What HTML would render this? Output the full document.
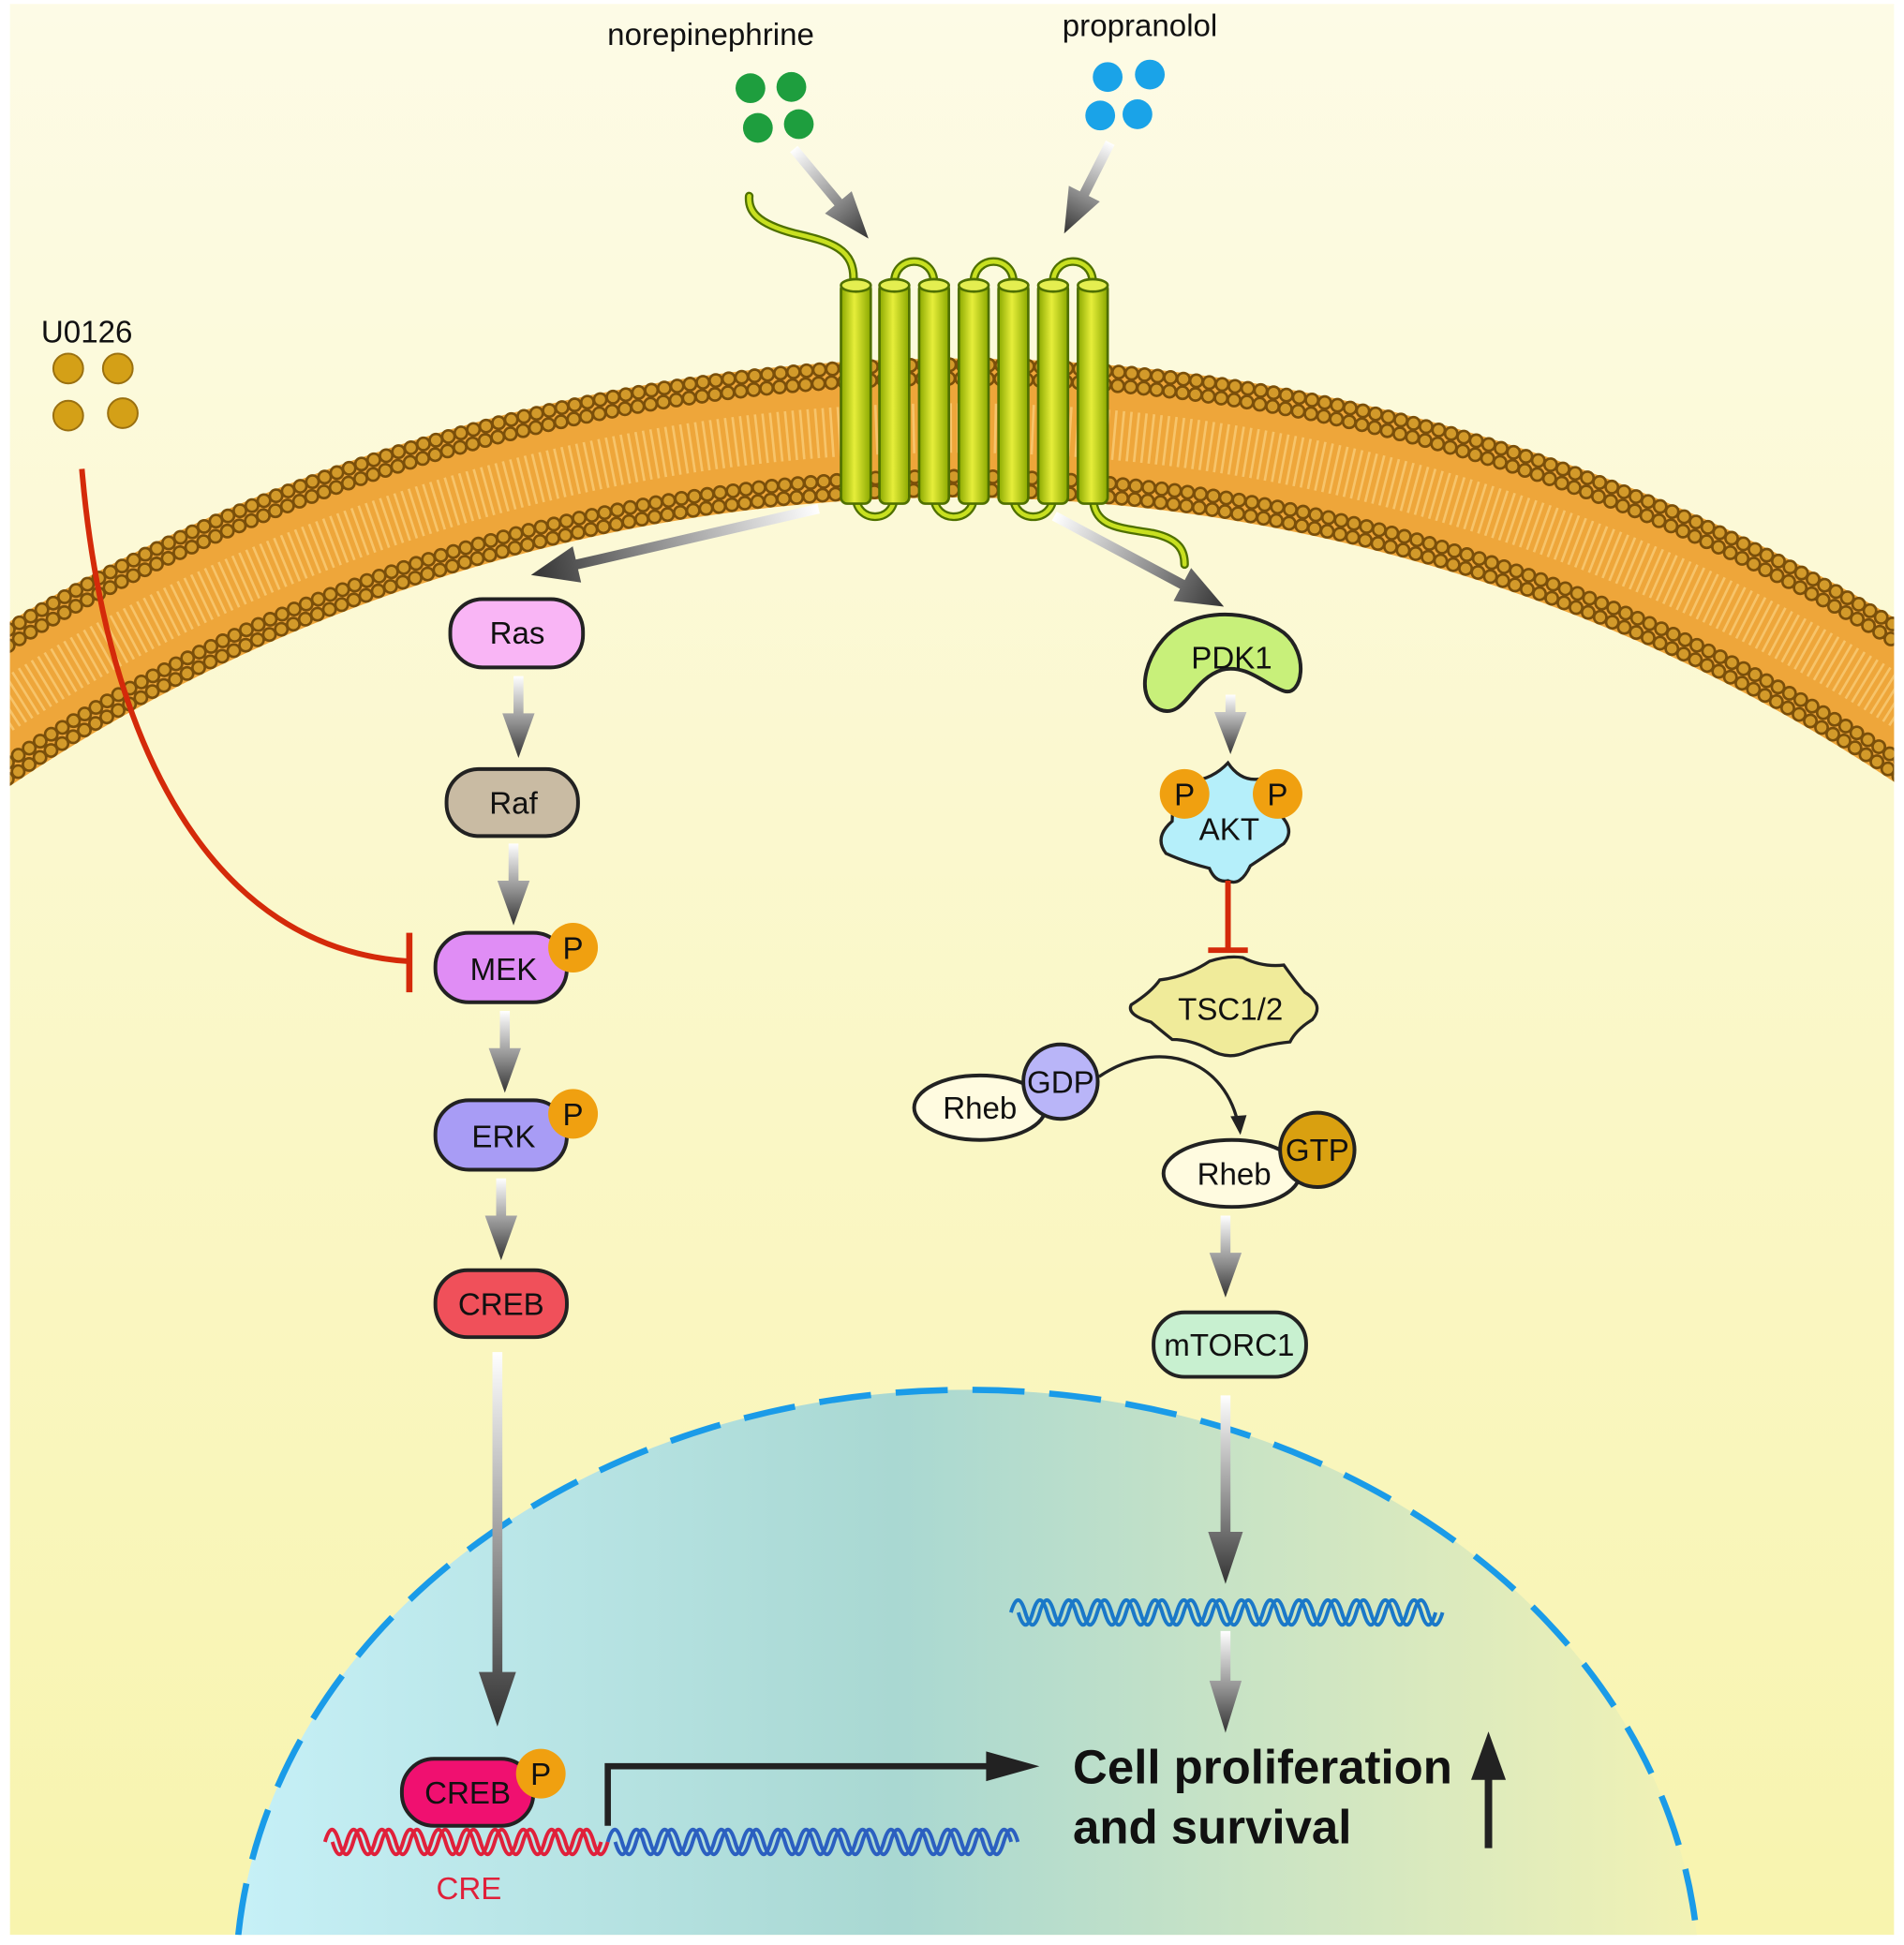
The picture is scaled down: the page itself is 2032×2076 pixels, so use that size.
<!DOCTYPE html>
<html><head><meta charset="utf-8"><style>html,body{margin:0;padding:0;background:#fff;width:2032px;height:2076px;overflow:hidden}svg{display:block}</style></head>
<body>
<svg width="2032" height="2076" viewBox="0 0 1535 1568" xmlns="http://www.w3.org/2000/svg" font-family="Liberation Sans, Arial, sans-serif">
<defs>
<linearGradient id="bg" x1="0" y1="0" x2="0" y2="1"><stop offset="0" stop-color="#fdfbe6"/><stop offset="1" stop-color="#f8f4ae"/></linearGradient>
<linearGradient id="arr" x1="0" y1="0" x2="0" y2="1"><stop offset="0" stop-color="#ffffff"/><stop offset="0.6" stop-color="#8a8a8a"/><stop offset="1" stop-color="#333"/></linearGradient>
<linearGradient id="nuc" x1="0" y1="0" x2="1" y2="0"><stop offset="0" stop-color="#c6f0f7"/><stop offset="0.45" stop-color="#a9d8d2"/><stop offset="1" stop-color="#f2f2b4"/></linearGradient>
<linearGradient id="cyl" x1="0" y1="0" x2="1" y2="0"><stop offset="0" stop-color="#8aa800"/><stop offset="0.45" stop-color="#e6ee3a"/><stop offset="1" stop-color="#8aa800"/></linearGradient>
<clipPath id="cv"><rect x="8" y="3" width="1519" height="1557"/></clipPath>
</defs>
<rect width="1535" height="1568" fill="#fff"/>
<g clip-path="url(#cv)">
<rect x="8" y="3" width="1519" height="1557" fill="url(#bg)"/>
<path d="M-60,612.8 A1420,1420 0 0,1 1595,609.2" fill="none" stroke="#eea63a" stroke-width="112"/>
<path d="M-60,612.8 A1420,1420 0 0,1 1595,609.2" fill="none" stroke="#f7c46a" stroke-width="40" stroke-dasharray="2 4"/>
<g fill="none" stroke-linecap="round" stroke-dasharray="0 10.5">
<path d="M-20,524.1 A1471,1471 0 0,1 1555,521" stroke="#7a4f0a" stroke-width="12"/>
<path d="M-20,524.1 A1471,1471 0 0,1 1555,521" stroke="#d39a2a" stroke-width="8"/>
<path d="M-20,537.2 A1460,1460 0 0,1 1555,534" stroke="#7a4f0a" stroke-width="12"/>
<path d="M-20,537.2 A1460,1460 0 0,1 1555,534" stroke="#d39a2a" stroke-width="8"/>
<path d="M-20,632.3 A1381,1381 0 0,1 1555,628.8" stroke="#7a4f0a" stroke-width="12"/>
<path d="M-20,632.3 A1381,1381 0 0,1 1555,628.8" stroke="#d39a2a" stroke-width="8"/>
<path d="M-20,645.7 A1370,1370 0 0,1 1555,642.2" stroke="#7a4f0a" stroke-width="12"/>
<path d="M-20,645.7 A1370,1370 0 0,1 1555,642.2" stroke="#d39a2a" stroke-width="8"/>
</g>
<path d="M192.1,1560 A590,480 0 0,1 1367.9,1560 Z" fill="url(#nuc)"/>
<path d="M192.1,1560 A590,480 0 0,1 1367.9,1560" fill="none" stroke="#1a9be8" stroke-width="5" stroke-dasharray="42 20"/>
</g>

<text x="573" y="36" font-size="25" text-anchor="middle" fill="#111">norepinephrine</text>
<g fill="#1e9e3e"><circle cx="605" cy="71" r="12"/><circle cx="638" cy="70" r="12"/><circle cx="611" cy="103" r="12"/><circle cx="644" cy="100" r="12"/></g>
<text x="919" y="29" font-size="25" text-anchor="middle" fill="#111">propranolol</text>
<g fill="#1aa3e8"><circle cx="893" cy="62" r="12"/><circle cx="927" cy="60" r="12"/><circle cx="887" cy="93" r="12"/><circle cx="917" cy="92" r="12"/></g>
<text x="70" y="276" font-size="25" text-anchor="middle" fill="#111">U0126</text>
<g fill="#d4a017" stroke="#9a7010" stroke-width="1.5"><circle cx="55" cy="297" r="12"/><circle cx="95" cy="297" r="12"/><circle cx="55" cy="335" r="12"/><circle cx="99" cy="333" r="12"/></g>

<g fill="none" stroke="#4f7000" stroke-width="7" stroke-linecap="round">
<path d="M688,228 C690,200 670,195 640,188 C610,180 603,170 604,158"/>
<path d="M881,400 C882,425 900,425 930,430 C952,435 955,445 955,455"/>
<path d="M721,228 C721,205 753,205 753,228"/><path d="M785,228 C785,205 817,205 817,228"/><path d="M849,228 C849,205 881,205 881,228"/>
<path d="M690,400 C690,422 721,422 721,400"/><path d="M753,400 C753,422 785,422 785,400"/><path d="M817,400 C817,422 849,422 849,400"/>
</g>
<g fill="none" stroke="#c8e020" stroke-width="3.5" stroke-linecap="round">
<path d="M688,228 C690,200 670,195 640,188 C610,180 603,170 604,158"/>
<path d="M881,400 C882,425 900,425 930,430 C952,435 955,445 955,455"/>
<path d="M721,228 C721,205 753,205 753,228"/><path d="M785,228 C785,205 817,205 817,228"/><path d="M849,228 C849,205 881,205 881,228"/>
<path d="M690,400 C690,422 721,422 721,400"/><path d="M753,400 C753,422 785,422 785,400"/><path d="M817,400 C817,422 849,422 849,400"/>
</g>
<g stroke="#4f7000" stroke-width="2">
<g fill="url(#cyl)">
<rect x="678" y="228" width="24" height="178" rx="5"/><rect x="709" y="228" width="24" height="178" rx="5"/><rect x="741" y="228" width="24" height="178" rx="5"/><rect x="773" y="228" width="24" height="178" rx="5"/><rect x="805" y="228" width="24" height="178" rx="5"/><rect x="837" y="228" width="24" height="178" rx="5"/><rect x="869" y="228" width="24" height="178" rx="5"/>
</g>
<g fill="#e4ee50">
<ellipse cx="690" cy="230" rx="12" ry="5"/><ellipse cx="721" cy="230" rx="12" ry="5"/><ellipse cx="753" cy="230" rx="12" ry="5"/><ellipse cx="785" cy="230" rx="12" ry="5"/><ellipse cx="817" cy="230" rx="12" ry="5"/><ellipse cx="849" cy="230" rx="12" ry="5"/><ellipse cx="881" cy="230" rx="12" ry="5"/>
</g></g>

<g fill="url(#arr)">
<g transform="translate(640,120) rotate(-39.8)"><polygon points="-4,0 4,0 4,56 14,56 0,94 -14,56 -4,56"/></g>
<g transform="translate(895,115) rotate(26.9)"><polygon points="-4,0 4,0 4,46 14,46 0,82 -14,46 -4,46"/></g>
<g transform="translate(660,410) rotate(77)"><polygon points="-4,0 4,0 4,200 15,200 0,238 -15,200 -4,200"/></g>
<g transform="translate(850,416) rotate(-61.9)"><polygon points="-4,0 4,0 4,117 15,117 0,155 -15,117 -4,117"/></g>
<g transform="translate(418,545)"><polygon points="-4,0 4,0 4,30 13,30 0,66 -13,30 -4,30"/></g>
<g transform="translate(414,680)"><polygon points="-4,0 4,0 4,30 13,30 0,66 -13,30 -4,30"/></g>
<g transform="translate(407,815)"><polygon points="-4,0 4,0 4,30 13,30 0,66 -13,30 -4,30"/></g>
<g transform="translate(404,950)"><polygon points="-4,0 4,0 4,30 13,30 0,66 -13,30 -4,30"/></g>
<g transform="translate(401,1090)"><polygon points="-4,0 4,0 4,258 15,258 0,302 -15,258 -4,258"/></g>
<g transform="translate(992,560)"><polygon points="-4,0 4,0 4,14 13,14 0,48 -13,14 -4,14"/></g>
<g transform="translate(988,980)"><polygon points="-4,0 4,0 4,30 13,30 0,66 -13,30 -4,30"/></g>
<g transform="translate(988,1125)"><polygon points="-4,0 4,0 4,110 14,110 0,152 -14,110 -4,110"/></g>
<g transform="translate(988,1315)"><polygon points="-4,0 4,0 4,40 13,40 0,82 -13,40 -4,40"/></g>
</g>

<path d="M66,378 C85,600 170,765 330,775" fill="none" stroke="#d42a0a" stroke-width="4.5"/>
<line x1="330" y1="752" x2="330" y2="800" stroke="#d42a0a" stroke-width="5"/>

<g stroke="#222" stroke-width="3">
<rect x="363" y="483" width="107" height="55" rx="26" fill="#f9b5f5"/>
<rect x="360" y="620" width="106" height="54" rx="26" fill="#c9bba3"/>
<rect x="351" y="752" width="106" height="56" rx="27" fill="#e08df5"/>
<rect x="351" y="887" width="106" height="56" rx="27" fill="#a89cf5"/>
<rect x="351" y="1024" width="106" height="54" rx="26" fill="#f0505a"/>
<rect x="324" y="1418" width="106" height="54" rx="26" fill="#f01070"/>
</g>
<g fill="#f0a010"><circle cx="462" cy="764" r="20"/><circle cx="462" cy="898" r="20"/><circle cx="436" cy="1430" r="20"/></g>
<g font-size="25" text-anchor="middle" fill="#111">
<text x="417" y="519">Ras</text><text x="414" y="656">Raf</text><text x="406" y="790">MEK</text><text x="406" y="925">ERK</text><text x="404" y="1060">CREB</text><text x="377" y="1454">CREB</text>
<text x="462" y="773">P</text><text x="462" y="907">P</text><text x="436" y="1439">P</text>
</g>

<g fill="none" stroke-width="3">
<path stroke="#e0203a" d="M262,1485 q5.7,-20 11.4,0 t11.4,0 t11.4,0 t11.4,0 t11.4,0 t11.4,0 t11.4,0 t11.4,0 t11.4,0 t11.4,0 t11.4,0 t11.4,0 t11.4,0 t11.4,0 t11.4,0 t11.4,0 t11.4,0 t11.4,0 t11.4,0 t11.4,0"/>
<path stroke="#e0203a" d="M268,1485 q5.7,20 11.4,0 t11.4,0 t11.4,0 t11.4,0 t11.4,0 t11.4,0 t11.4,0 t11.4,0 t11.4,0 t11.4,0 t11.4,0 t11.4,0 t11.4,0 t11.4,0 t11.4,0 t11.4,0 t11.4,0 t11.4,0 t11.4,0"/>
<path stroke="#2b5fc0" d="M490,1485 q5.7,-20 11.4,0 t11.4,0 t11.4,0 t11.4,0 t11.4,0 t11.4,0 t11.4,0 t11.4,0 t11.4,0 t11.4,0 t11.4,0 t11.4,0 t11.4,0 t11.4,0 t11.4,0 t11.4,0 t11.4,0 t11.4,0 t11.4,0 t11.4,0 t11.4,0 t11.4,0 t11.4,0 t11.4,0 t11.4,0 t11.4,0 t11.4,0 t11.4,0 t11.4,0"/>
<path stroke="#2b5fc0" d="M496,1485 q5.7,20 11.4,0 t11.4,0 t11.4,0 t11.4,0 t11.4,0 t11.4,0 t11.4,0 t11.4,0 t11.4,0 t11.4,0 t11.4,0 t11.4,0 t11.4,0 t11.4,0 t11.4,0 t11.4,0 t11.4,0 t11.4,0 t11.4,0 t11.4,0 t11.4,0 t11.4,0 t11.4,0 t11.4,0 t11.4,0 t11.4,0 t11.4,0 t11.4,0"/>
<path stroke="#1a78c8" d="M815,1300 q5.8,-20 11.6,0 t11.6,0 t11.6,0 t11.6,0 t11.6,0 t11.6,0 t11.6,0 t11.6,0 t11.6,0 t11.6,0 t11.6,0 t11.6,0 t11.6,0 t11.6,0 t11.6,0 t11.6,0 t11.6,0 t11.6,0 t11.6,0 t11.6,0 t11.6,0 t11.6,0 t11.6,0 t11.6,0 t11.6,0 t11.6,0 t11.6,0 t11.6,0 t11.6,0 t11.6,0"/>
<path stroke="#1a78c8" d="M821,1300 q5.8,20 11.6,0 t11.6,0 t11.6,0 t11.6,0 t11.6,0 t11.6,0 t11.6,0 t11.6,0 t11.6,0 t11.6,0 t11.6,0 t11.6,0 t11.6,0 t11.6,0 t11.6,0 t11.6,0 t11.6,0 t11.6,0 t11.6,0 t11.6,0 t11.6,0 t11.6,0 t11.6,0 t11.6,0 t11.6,0 t11.6,0 t11.6,0 t11.6,0 t11.6,0"/>
</g>
<text x="378" y="1531" font-size="25" text-anchor="middle" fill="#e0203a">CRE</text>

<path d="M490,1472 V1424 H800" fill="none" stroke="#222" stroke-width="5"/>
<polygon points="795,1412 838,1424 795,1436" fill="#222"/>
<text x="865" y="1438" font-size="38.5" font-weight="bold" fill="#111">Cell proliferation</text>
<text x="865" y="1486" font-size="38.5" font-weight="bold" fill="#111">and survival</text>
<line x1="1200" y1="1490" x2="1200" y2="1430" stroke="#222" stroke-width="6"/>
<polygon points="1186,1435 1200,1396 1214,1435" fill="#222"/>

<path d="M935,572 C912,562 925,520 950,505 C975,490 1012,493 1035,510 C1056,527 1050,562 1035,557 C1020,552 1005,535 985,540 C960,548 955,580 935,572 Z" fill="#c8f07a" stroke="#222" stroke-width="3"/>
<text x="993" y="539" font-size="25" text-anchor="middle" fill="#111">PDK1</text>
<path d="M990,615 Q1000,630 1015,628 Q1025,640 1030,655 Q1045,668 1035,680 Q1020,690 1008,698 Q1000,715 990,710 Q980,712 975,700 Q955,695 940,688 Q930,675 945,662 Q945,640 960,630 Q978,628 990,615 Z" fill="#b5effa" stroke="#222" stroke-width="2.5"/>
<g fill="#f0a010"><circle cx="955" cy="640" r="20"/><circle cx="1030" cy="640" r="20"/></g>
<g font-size="25" text-anchor="middle" fill="#111"><text x="955" y="649">P</text><text x="1030" y="649">P</text><text x="991" y="677">AKT</text></g>
<line x1="990" y1="710" x2="990" y2="765" stroke="#d42a0a" stroke-width="4.5"/>
<line x1="974" y1="766" x2="1006" y2="766" stroke="#d42a0a" stroke-width="4.5"/>
<path d="M975,775 Q990,770 1002,772 Q1018,780 1035,778 Q1045,792 1052,800 Q1068,810 1058,822 Q1045,830 1040,840 Q1020,842 1005,848 Q990,855 975,846 Q960,838 945,838 Q935,830 928,824 Q908,818 912,810 Q928,800 935,790 Q955,788 975,775 Z" fill="#f0eb9a" stroke="#222" stroke-width="2.5"/>
<text x="992" y="822" font-size="25" text-anchor="middle" fill="#111">TSC1/2</text>
<ellipse cx="790" cy="893" rx="53" ry="26" fill="#fffbe0" stroke="#222" stroke-width="3"/>
<circle cx="855" cy="872" r="30" fill="#b9b5f8" stroke="#222" stroke-width="3"/>
<path d="M886,868 C930,838 985,850 998,905" fill="none" stroke="#222" stroke-width="2.5"/>
<polygon points="992,900 1000,915 1005,899" fill="#222"/>
<ellipse cx="993" cy="946" rx="55" ry="27" fill="#fffbe0" stroke="#222" stroke-width="3"/>
<circle cx="1062" cy="927" r="30" fill="#d9a010" stroke="#222" stroke-width="3"/>
<g font-size="25" text-anchor="middle" fill="#111"><text x="790" y="902">Rheb</text><text x="855" y="881">GDP</text><text x="995" y="955">Rheb</text><text x="1062" y="936">GTP</text></g>
<rect x="930" y="1058" width="123" height="52" rx="25" fill="#c8f0d0" stroke="#222" stroke-width="3"/>
<text x="991" y="1093" font-size="25" text-anchor="middle" fill="#111">mTORC1</text>
</svg>
</body></html>
